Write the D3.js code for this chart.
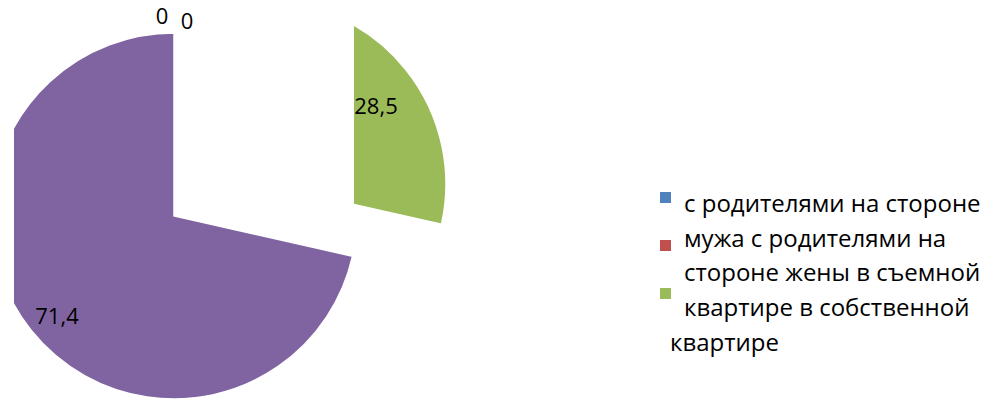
<!DOCTYPE html>
<html lang="ru">
<head>
<meta charset="UTF-8">
<title>Pie</title>
<script src="https://d3js.org/d3.v7.min.js"></script>
<style>
  body { margin: 0; background: #fff; }
  svg { font-family: "Open Sans", "Noto Sans", sans-serif; }
</style>
</head>
<body>
<svg width="995" height="401"></svg>
<script>
// data
const categories = [
    "с родителями на стороне мужа",
    "с родителями на стороне жены",
    "в съемной квартире",
    "в собственной квартире"
];
const values = [0, 0, 28.5, 71.4];
const valueLabels = ["0", "0", "28,5", "71,4"];
const colors = ["#4F81BD", "#C0504D", "#9BBB59", "#8064A2"];
// legend text as it wraps in the original
const legendLines = [
    "с родителями на стороне",
    "мужа с родителями на",
    "стороне жены в съемной",
    "квартире в собственной",
    "квартире"
];

const svg = d3.select("svg");
const radius = 183;

// slice centres (exploded pie) and label positions
const centers = [[174, 216], [174, 216], [263, 184], [174, 216]];
const labelXY = [[162, 24], [187, 29], [376, 114], [57, 324]];

const defs = svg.append("defs");
defs.append("clipPath").attr("id", "plot")
    .append("rect").attr("x", 14).attr("y", 0).attr("width", 600).attr("height", 401);
defs.append("clipPath").attr("id", "green")
    .append("rect").attr("x", 354).attr("y", 0).attr("width", 260).attr("height", 401);

const pie = d3.pie().sort(null).value(d => d)(values);
const arc = d3.arc().innerRadius(0).outerRadius(radius);

const g = svg.append("g").attr("clip-path", "url(#plot)");
g.selectAll("g.slice")
    .data(pie)
    .join("g")
    .attr("class", "slice")
    .attr("clip-path", (d, i) => i === 2 ? "url(#green)" : null)
    .append("path")
    .attr("transform", (d, i) => `translate(${centers[i][0]},${centers[i][1]})`)
    .attr("d", arc)
    .attr("fill", (d, i) => colors[i])
    .attr("stroke", "#fff")
    .attr("stroke-width", 1.5);

svg.selectAll("text.lbl")
    .data(pie)
    .join("text")
    .attr("class", "lbl")
    .attr("x", (d, i) => labelXY[i][0])
    .attr("y", (d, i) => labelXY[i][1])
    .attr("text-anchor", "middle")
    .attr("font-size", 22)
    .attr("fill", "#000")
    .text((d, i) => valueLabels[i]);

// legend
const legend = svg.append("g");
const markerY = [192, 240, 288];
legend.selectAll("rect")
    .data(categories.slice(0, 3))
    .join("rect")
    .attr("x", 660)
    .attr("y", (d, i) => markerY[i])
    .attr("width", 11)
    .attr("height", 11)
    .attr("fill", (d, i) => colors[i]);

legend.selectAll("text")
    .data(legendLines)
    .join("text")
    .attr("x", (d, i) => i < 4 ? 684 : 670)
    .attr("y", (d, i) => 212 + i * 34.7)
    .attr("font-size", 24)
    .attr("fill", "#000")
    .text(d => d);
</script>
</body>
</html>
